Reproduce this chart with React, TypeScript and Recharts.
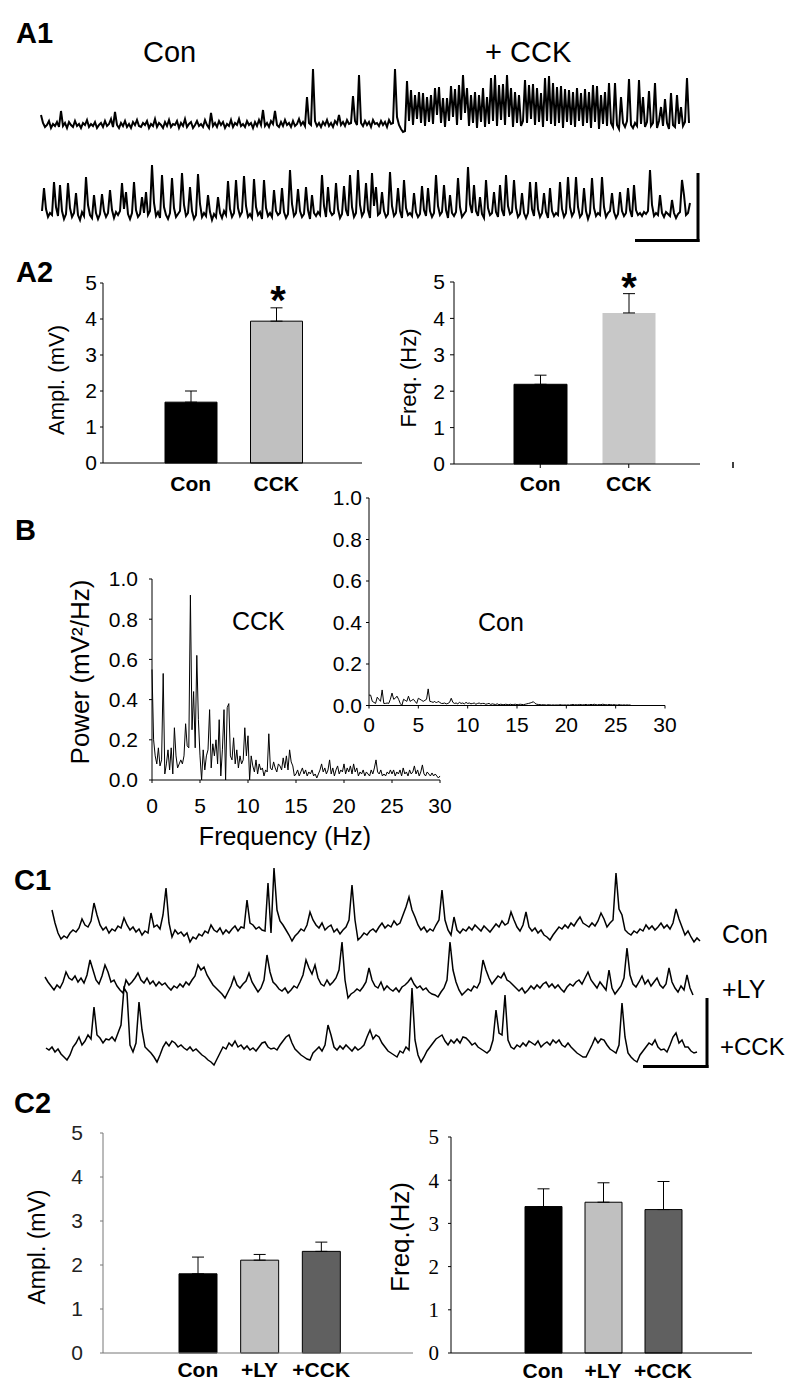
import React from "react";
import { LineChart, Line, BarChart, Bar, Cell, ErrorBar, XAxis, YAxis } from "recharts";

const SANS = "'Liberation Sans', Arial, Helvetica, sans-serif";
const SERIF = "'Liberation Serif', 'Times New Roman', serif";

// A1 traces: height in px above the trace floor, one sample every 2 px
const a1Top: number[] = [
  20, 12, 8, 10, 14, 7, 11, 9, 13, 8, 24, 9, 12, 7, 13, 10, 8, 14, 9, 11,
  7, 12, 10, 15, 8, 11, 9, 13, 7, 10, 12, 8, 14, 9, 11, 16, 8, 23, 10, 7,
  12, 9, 14, 8, 11, 7, 13, 10, 15, 9, 8, 12, 10, 14, 7, 11, 9, 16, 8, 12,
  10, 7, 13, 9, 15, 8, 11, 10, 14, 7, 12, 9, 16, 8, 11, 13, 7, 10, 14, 9,
  11, 8, 15, 10, 7, 22, 9, 12, 8, 14, 10, 13, 7, 11, 9, 15, 8, 12, 10, 16,
  9, 11, 8, 14, 10, 12, 7, 13, 9, 15, 10, 25, 9, 12, 8, 14, 11, 24, 10, 8,
  13, 9, 15, 10, 12, 8, 14, 9, 11, 16, 10, 13, 9, 38, 12, 10, 66, 14, 9, 12,
  8, 13, 10, 15, 9, 12, 8, 14, 11, 20, 10, 13, 9, 15, 11, 12, 39, 14, 10, 60,
  12, 9, 14, 10, 13, 8, 15, 11, 12, 9, 14, 10, 13, 8, 15, 11, 12, 66, 18, 10,
  6, 3,
  4, 54, 14, 45, 10, 40, 16, 43, 12, 42, 9, 38, 13, 40, 11, 47, 20, 48, 12, 37,
  8, 37, 14, 49, 18, 46, 10, 50, 15, 60, 22, 47, 9, 40, 12, 43, 7, 40, 13, 47,
  8, 38, 11, 57, 14, 60, 9, 50, 15, 51, 10, 60, 18, 47, 8, 43, 12, 40, 9, 14,
  55, 12, 50, 16, 51, 10, 47, 13, 42, 8, 57, 14, 59, 11, 52, 9, 48, 12, 49, 7,
  46, 13, 45, 10, 43, 8, 47, 14, 42, 9, 46, 12, 43, 7, 50, 13, 49, 6, 40, 11,
  43, 9, 52, 12, 8, 52, 10, 6, 38, 12, 8, 14, 56, 10, 7, 12, 9, 55, 11, 38,
  8, 13, 44, 9, 12, 52, 7, 14, 28, 9, 36, 12, 6, 42, 10, 8, 40, 11, 28, 9,
  13, 57, 12,
];

const a1Bottom: number[] = [
  14, 37, 16, 8, 12, 10, 43, 18, 9, 40, 14, 6, 11, 42, 17, 8, 12, 32, 10, 5,
  13, 9, 48, 20, 10, 7, 30, 12, 6, 11, 31, 14, 8, 12, 35, 15, 7, 13, 10, 14,
  42, 16, 33, 11, 6, 12, 43, 15, 8, 11, 28, 12, 33, 10, 14, 60, 22, 9, 13, 7,
  50, 18, 10, 6, 12, 47, 17, 8, 11, 14, 52, 20, 9, 12, 38, 14, 6, 10, 51, 21,
  8, 12, 9, 30, 13, 5, 11, 8, 28, 12, 7, 14, 10, 44, 16, 8, 12, 45, 17, 9,
  13, 49, 19, 8, 11, 7, 46, 18, 10, 13, 6, 45, 17, 9, 12, 8, 35, 14, 10, 12,
  37, 13, 7, 11, 55, 21, 9, 12, 36, 14, 8, 11, 38, 15, 6, 30, 12, 9, 13, 10,
  50, 19, 8, 38, 14, 10, 12, 42, 16, 7, 11, 39, 15, 9, 50, 18, 8, 12, 55, 20,
  9, 13, 42, 15, 7, 52, 19, 38, 10, 12, 33, 14, 8, 11, 53, 19, 9, 12, 37, 14,
  7, 45, 17, 10, 12, 9, 32, 13, 8, 11, 39, 15, 9, 37, 14, 8, 12, 50, 19, 10,
  13, 40, 15, 7, 30, 12, 9, 13, 47, 18, 8, 11, 14, 58, 21, 12, 40, 14, 9, 28,
  11, 7, 45, 17, 10, 12, 33, 13, 8, 40, 15, 9, 50, 19, 11, 13, 45, 17, 8, 11,
  32, 12, 7, 12, 43, 16, 9, 43, 16, 8, 12, 32, 13, 7, 37, 14, 9, 12, 10, 43,
  16, 8, 12, 48, 18, 9, 13, 48, 18, 8, 11, 37, 14, 6, 12, 47, 17, 9, 12, 10,
  48, 18, 8, 12, 14, 32, 13, 7, 11, 33, 14, 9, 12, 37, 15, 8, 40, 15, 10, 12,
  9, 13, 11, 14, 55, 20, 9, 12, 10, 30, 12, 8, 13, 11, 9, 25, 12, 7, 11, 13,
  45, 30, 10, 12, 22,
];

// C1 traces: one sample every 3 px
const c1Con: number[] = [
  35, 22, 12, 6, 9, 7, 12, 15, 13, 17, 26, 20, 18, 24, 42, 30, 20, 15, 18, 12,
  16, 14, 19, 17, 27, 20, 15, 18, 13, 16, 10, 14, 12, 32, 18, 20, 16, 30, 57, 22,
  8, 15, 11, 13, 9, 12, 3, 8, 6, 11, 9, 14, 12, 20, 15, 13, 17, 11, 15, 12,
  16, 19, 14, 18, 17, 45, 22, 20, 16, 18, 15, 14, 62, 12, 77, 35, 24, 20, 15, 10,
  4, 9, 12, 16, 14, 20, 33, 25, 20, 17, 22, 15, 18, 20, 13, 16, 11, 15, 18, 25,
  60, 25, 5, 8, 12, 10, 14, 16, 13, 18, 22, 17, 20, 18, 24, 20, 22, 30, 38, 48,
  35, 28, 20, 15, 18, 13, 16, 14, 20, 25, 55, 25, 15, 10, 28, 15, 12, 16, 14, 18,
  15, 20, 17, 14, 19, 16, 13, 17, 21, 18, 24, 20, 22, 33, 25, 18, 14, 20, 33, 18,
  14, 17, 12, 15, 10, 8, 5, 10, 14, 18, 16, 20, 17, 22, 19, 24, 28, 22, 20, 18,
  22, 19, 24, 32, 26, 18, 22, 25, 72, 36, 30, 15, 12, 10, 14, 12, 16, 14, 20, 16,
  19, 15, 18, 22, 17, 20, 16, 22, 36, 26, 18, 10, 14, 8, 3, 7, 4,
];

const c1Ly: number[] = [
  23, 18, 14, 10, 15, 12, 18, 28, 22, 20, 24, 18, 22, 17, 25, 40, 30, 20, 16, 24,
  35, 28, 18, 20, 14, 10, 7, 20, 15, 18, 22, 27, 20, 17, 22, 16, 19, 14, 18, 15,
  17, 13, 10, 14, 12, 16, 13, 18, 15, 20, 24, 35, 30, 33, 25, 20, 15, 12, 9, 6,
  2, 8, 14, 23, 15, 12, 16, 19, 27, 18, 13, 8, 12, 20, 45, 28, 18, 15, 11, 9,
  12, 7, 10, 14, 12, 18, 25, 40, 32, 26, 35, 22, 16, 14, 20, 15, 18, 22, 30, 58,
  20, 2, 6, 8, 11, 9, 13, 18, 32, 20, 14, 12, 18, 10, 14, 11, 9, 12, 8, 13,
  15, 18, 22, 16, 12, 14, 10, 12, 8, 6, 5, 3, 8, 12, 20, 58, 30, 18, 10, 5,
  8, 11, 9, 14, 12, 18, 40, 30, 22, 16, 20, 24, 22, 27, 20, 18, 15, 12, 9, 12,
  7, 10, 14, 11, 15, 12, 16, 18, 13, 16, 12, 15, 11, 8, 13, 16, 14, 18, 20, 16,
  22, 28, 20, 16, 12, 18, 14, 10, 30, 12, 6, 10, 14, 22, 52, 25, 16, 13, 18, 24,
  16, 20, 14, 18, 22, 15, 12, 16, 32, 18, 12, 8, 14, 10, 25, 12, 5,
];

const c1Cck: number[] = [
  17, 15, 18, 13, 16, 11, 8, 5, 10, 18, 22, 28, 20, 24, 30, 26, 58, 30, 27, 22,
  26, 25, 28, 24, 32, 40, 77, 72, 20, 13, 22, 63, 35, 18, 15, 12, 8, 3, 10, 18,
  23, 19, 24, 22, 18, 20, 17, 15, 18, 14, 16, 13, 10, 8, 5, 3, 0, 6, 12, 18,
  16, 22, 19, 24, 18, 20, 16, 19, 15, 17, 14, 18, 22, 23, 18, 16, 17, 15, 20, 24,
  28, 30, 22, 16, 13, 10, 8, 6, 5, 12, 15, 18, 14, 20, 40, 30, 18, 15, 19, 16,
  20, 17, 14, 18, 15, 17, 20, 28, 35, 26, 30, 28, 22, 18, 14, 12, 10, 8, 14, 12,
  18, 15, 77, 25, 10, 3, 8, 14, 18, 22, 26, 28, 30, 24, 20, 25, 22, 26, 22, 28,
  27, 24, 20, 22, 18, 16, 14, 12, 15, 25, 55, 32, 30, 70, 25, 18, 16, 20, 18, 22,
  19, 24, 22, 20, 24, 18, 21, 23, 20, 25, 22, 25, 20, 18, 22, 18, 15, 12, 10, 8,
  8, 14, 20, 27, 22, 26, 25, 20, 16, 14, 12, 20, 62, 28, 12, 8, 5, 3, 10, 14,
  18, 22, 20, 25, 18, 15, 16, 13, 20, 28, 32, 22, 25, 18, 18, 14, 12, 13,
];

// B power spectra (mV^2/Hz), bins of 1/6 Hz from 0 Hz
const spectrumCck: number[] = [
  0.55, 0.2, 0.12, 0.08, 0.16, 0.07, 0.1, 0.53, 0.03, 0.08,
  0.15, 0.05, 0.16, 0.03, 0.26, 0.12, 0.06, 0.08, 0.1, 0.08,
  0.12, 0.28, 0.17, 0.16, 0.92, 0.25, 0.44, 0.16, 0.62, 0.3,
  0.12, 0.0, 0.15, 0.05, 0.12, 0.15, 0.35, 0.06, 0.18, 0.12,
  0.2, 0.08, 0.3, 0.02, 0.15, 0.35, 0.0, 0.36, 0.38, 0.12,
  0.1, 0.21, 0.08, 0.15, 0.06, 0.12, 0.08, 0.1, 0.26, 0.12,
  0.22, 0.0, 0.12, 0.07, 0.04, 0.1, 0.03, 0.08, 0.05, 0.06,
  0.02, 0.05, 0.04, 0.23, 0.06, 0.05, 0.09, 0.06, 0.04, 0.08,
  0.07, 0.05, 0.11, 0.06, 0.12, 0.05, 0.15, 0.09, 0.07, 0.02,
  0.03, 0.05, 0.02, 0.04, 0.06, 0.03, 0.05, 0.02, 0.04, 0.03,
  0.05, 0.02, 0.03, 0.01, 0.03, 0.05, 0.08, 0.04, 0.06, 0.03,
  0.05, 0.1, 0.03, 0.06, 0.02, 0.05, 0.07, 0.03, 0.05, 0.04,
  0.08, 0.03, 0.06, 0.04, 0.07, 0.03, 0.08, 0.04, 0.06, 0.02,
  0.04, 0.03, 0.05, 0.02, 0.04, 0.03, 0.02, 0.05, 0.03, 0.06,
  0.1, 0.04, 0.03, 0.05, 0.02, 0.03, 0.02, 0.04, 0.03, 0.05,
  0.03, 0.05, 0.02, 0.04, 0.03, 0.05, 0.02, 0.06, 0.03, 0.04,
  0.02, 0.05, 0.03, 0.04, 0.07, 0.03, 0.05, 0.02, 0.04, 0.075,
  0.03, 0.02, 0.04, 0.03, 0.02, 0.035, 0.02, 0.03, 0.02, 0.01,
  0.02,
];

const spectrumCon: number[] = [
  0.05, 0.05, 0.02, 0.015, 0.01, 0.04, 0.03, 0.02, 0.075, 0.01,
  0.01, 0.012, 0.01, 0.03, 0.06, 0.03, 0.035, 0.045, 0.03, 0.01,
  0.0, 0.03, 0.025, 0.02, 0.045, 0.02, 0.025, 0.03, 0.02, 0.01,
  0.035, 0.03, 0.025, 0.02, 0.025, 0.03, 0.08, 0.02, 0.018, 0.015,
  0.02, 0.012, 0.02, 0.015, 0.01, 0.01, 0.012, 0.008, 0.01, 0.015,
  0.035, 0.015, 0.01, 0.012, 0.008, 0.015, 0.01, 0.012, 0.008, 0.015,
  0.01, 0.012, 0.008, 0.01, 0.012, 0.006, 0.01, 0.012, 0.008, 0.01,
  0.01, 0.006, 0.008, 0.01, 0.005, 0.008, 0.006, 0.005, 0.008, 0.004,
  0.006, 0.005, 0.004, 0.006, 0.005, 0.004, 0.006, 0.004, 0.005, 0.006,
  0.004, 0.005, 0.006, 0.005, 0.004, 0.006, 0.008, 0.01, 0.012, 0.015,
  0.018, 0.01, 0.006, 0.005, 0.004, 0.003, 0.004, 0.003, 0.002, 0.004,
  0.003, 0.002, 0.003, 0.002, 0.003, 0.002, 0.004, 0.003, 0.002, 0.003,
  0.002, 0.003, 0.002, 0.004, 0.005, 0.003, 0.004, 0.003, 0.005, 0.004,
  0.003, 0.004, 0.005, 0.003, 0.004, 0.005, 0.004, 0.006, 0.004, 0.003,
  0.005, 0.004, 0.006, 0.005, 0.004, 0.003, 0.005, 0.004, 0.003, 0.004,
  0.003, 0.002, 0.004, 0.003, 0.002, 0.003, 0.002, 0.003, 0.002, 0.003,
];
const BINS_PER_HZ = 6;
const freqTicks = [0, 5, 10, 15, 20, 25, 30];
const powerTicks = [0, 0.2, 0.4, 0.6, 0.8, 1.0];

// A2 / C2 bar data (mean and upward SEM)
const a2Cats = ["Con", "CCK"];
const a2Ampl = [1.69, 3.94];
const a2AmplErr = [0.31, 0.37];
const a2Freq = [2.19, 4.15];
const a2FreqErr = [0.25, 0.53];

const c2Cats = ["Con", "+LY", "+CCK"];
const c2Ampl = [1.8, 2.11, 2.31];
const c2AmplErr = [0.38, 0.13, 0.21];
const c2Freq = [3.39, 3.49, 3.32];
const c2FreqErr = [0.41, 0.45, 0.65];
const barTicks = [0, 1, 2, 3, 4, 5];

type TraceProps = {
  values: number[];
  x: number;
  floor: number;
  step: number;
  range: number;
  width?: number;
};

// raw voltage trace, no axes
const Trace = ({ values, x, floor, step, range, width = 1.4 }: TraceProps) => {
  const data = values.map((v, i) => ({ i, v }));
  const pad = 3;
  const w = (values.length - 1) * step;
  return (
    <div style={{ position: "absolute", left: x - pad, top: floor - range - pad }}>
      <LineChart
        width={w + pad * 2}
        height={range + pad * 2}
        data={data}
        margin={{ top: pad, right: pad, bottom: pad, left: pad }}
      >
        <XAxis dataKey="i" type="number" domain={[0, values.length - 1]} hide />
        <YAxis domain={[0, range]} hide />
        <Line
          dataKey="v"
          type="linear"
          stroke="#000"
          strokeWidth={width}
          strokeLinejoin="miter"
          dot={false}
          isAnimationActive={false}
        />
      </LineChart>
    </div>
  );
};

type BarPanelProps = {
  cats: string[];
  values: number[];
  errs: number[];
  fills: string[];
  strokes: string[];
  plotLeft: number;
  plotTop: number;
  plotW: number;
  plotH: number;
  padL: number;
  padR: number;
  barSize: number;
  axisColor: string;
  yTickFont: any;
  yTickSize: number;
  yTickMargin: number;
  xTickSize: number;
  xTickMargin: number;
  xFontSize: number;
};

const BarPanel = (p: BarPanelProps) => {
  const data = p.cats.map((name, i) => ({ name, value: p.values[i], err: [0, p.errs[i]] }));
  const yW = 50;
  const xH = 45;
  const mt = 20;
  return (
    <div style={{ position: "absolute", left: p.plotLeft - yW, top: p.plotTop - mt }}>
      <BarChart
        width={yW + p.plotW + 20}
        height={mt + p.plotH + xH}
        data={data}
        margin={{ top: mt, right: 20, bottom: 0, left: 0 }}
      >
        <XAxis
          dataKey="name"
          height={xH}
          padding={{ left: p.padL, right: p.padR }}
          axisLine={{ stroke: p.axisColor }}
          tickLine={p.xTickSize > 0 ? { stroke: "#000" } : false}
          tickSize={p.xTickSize}
          tickMargin={p.xTickMargin}
          interval={0}
          tick={{ fontSize: p.xFontSize, fontWeight: "bold", fill: "#000", fontFamily: SANS }}
        />
        <YAxis
          width={yW}
          domain={[0, 5]}
          ticks={barTicks}
          interval={0}
          axisLine={{ stroke: p.axisColor }}
          tickLine={{ stroke: p.axisColor }}
          tickSize={p.yTickSize}
          tickMargin={p.yTickMargin}
          tick={p.yTickFont}
        />
        <Bar dataKey="value" barSize={p.barSize} isAnimationActive={false}>
          {data.map((d, i) => (
            <Cell key={d.name} fill={p.fills[i]} stroke={p.strokes[i]} strokeWidth={1} />
          ))}
          <ErrorBar dataKey="err" width={6} stroke="#000" strokeWidth={1} direction="y" />
        </Bar>
      </BarChart>
    </div>
  );
};

type SpectrumProps = {
  values: number[];
  plotLeft: number;
  plotTop: number;
  plotW: number;
  plotH: number;
  fontSize: number;
  yTickMargin: number;
  xTickMargin: number;
};

const Spectrum = (p: SpectrumProps) => {
  const data = p.values.map((v, i) => ({ f: i / BINS_PER_HZ, p: v }));
  const yW = 50;
  const xH = 40;
  const mt = 20;
  return (
    <div style={{ position: "absolute", left: p.plotLeft - yW, top: p.plotTop - mt }}>
      <LineChart
        width={yW + p.plotW + 25}
        height={mt + p.plotH + xH}
        data={data}
        margin={{ top: mt, right: 25, bottom: 0, left: 0 }}
      >
        <XAxis
          dataKey="f"
          type="number"
          domain={[0, 30]}
          ticks={freqTicks}
          interval={0}
          height={xH}
          stroke="#000"
          tickSize={3}
          tickMargin={p.xTickMargin}
          tick={{ fontSize: p.fontSize, fill: "#000", fontFamily: SANS }}
        />
        <YAxis
          width={yW}
          domain={[0, 1]}
          ticks={powerTicks}
          interval={0}
          stroke="#000"
          tickSize={3}
          tickMargin={p.yTickMargin}
          tickFormatter={(v: number) => v.toFixed(1)}
          tick={{ fontSize: p.fontSize, fill: "#000", fontFamily: SANS }}
        />
        <Line
          dataKey="p"
          type="linear"
          stroke="#000"
          strokeWidth={1}
          dot={false}
          isAnimationActive={false}
        />
      </LineChart>
    </div>
  );
};

const sansTick = (size: number) => ({ fontSize: size, fill: "#000", fontFamily: SANS });

export default function App() {
  return (
    <div
      style={{
        position: "absolute",
        left: 0,
        top: 0,
        width: 800,
        height: 1391,
        background: "#fff",
        fontFamily: SANS,
        overflow: "hidden",
      }}
    >
      {/* A1 */}
      <Trace values={a1Top} x={41} floor={135} step={2} range={70} width={2} />
      <Trace values={a1Bottom} x={42} floor={225} step={2} range={70} width={2} />

      {/* A2 */}
      <BarPanel
        cats={a2Cats}
        values={a2Ampl}
        errs={a2AmplErr}
        fills={["#000", "#c0c0c0"]}
        strokes={["#000", "#000"]}
        plotLeft={103}
        plotTop={283}
        plotW={259}
        plotH={180}
        padL={45}
        padR={43}
        barSize={52}
        axisColor="#000"
        yTickFont={sansTick(21)}
        yTickSize={3}
        yTickMargin={3}
        xTickSize={0}
        xTickMargin={13}
        xFontSize={21}
      />
      <BarPanel
        cats={a2Cats}
        values={a2Freq}
        errs={a2FreqErr}
        fills={["#000", "#c8c8c8"]}
        strokes={["#000", "none"]}
        plotLeft={454}
        plotTop={282}
        plotW={246}
        plotH={182}
        padL={42}
        padR={27}
        barSize={53}
        axisColor="#000"
        yTickFont={sansTick(21)}
        yTickSize={4}
        yTickMargin={5}
        xTickSize={4}
        xTickMargin={8}
        xFontSize={21}
      />

      {/* B */}
      <Spectrum
        values={spectrumCck}
        plotLeft={152}
        plotTop={579}
        plotW={288}
        plotH={201}
        fontSize={21}
        yTickMargin={11}
        xTickMargin={15}
      />
      <Spectrum
        values={spectrumCon}
        plotLeft={369}
        plotTop={497.5}
        plotW={296}
        plotH={207.5}
        fontSize={21}
        yTickMargin={4}
        xTickMargin={9}
      />

      {/* C1 */}
      <Trace values={c1Con} x={52} floor={945} step={3} range={80} width={1.5} />
      <Trace values={c1Ly} x={45} floor={1000} step={3} range={60} width={1.5} />
      <Trace values={c1Cck} x={46} floor={1065} step={3} range={80} width={1.5} />

      {/* C2 */}
      <BarPanel
        cats={c2Cats}
        values={c2Ampl}
        errs={c2AmplErr}
        fills={["#000", "#c0c0c0", "#606060"]}
        strokes={["#000", "#000", "#000"]}
        plotLeft={103}
        plotTop={1133}
        plotW={310}
        plotH={220}
        padL={64}
        padR={61}
        barSize={38}
        axisColor="#777"
        yTickFont={{ fontSize: 21, fill: "#222", fontFamily: SANS }}
        yTickSize={3}
        yTickMargin={17}
        xTickSize={0}
        xTickMargin={9}
        xFontSize={21}
      />
      <BarPanel
        cats={c2Cats}
        values={c2Freq}
        errs={c2FreqErr}
        fills={["#000", "#c0c0c0", "#606060"]}
        strokes={["#000", "#000", "#000"]}
        plotLeft={451}
        plotTop={1137}
        plotW={301}
        plotH={216}
        padL={62}
        padR={59}
        barSize={37}
        axisColor="#000"
        yTickFont={{ fontSize: 21, fill: "#000", fontFamily: SERIF }}
        yTickSize={3}
        yTickMargin={9}
        xTickSize={0}
        xTickMargin={10}
        xFontSize={21}
      />

      {/* labels, scale bars */}
      <svg
        width={800}
        height={1391}
        style={{ position: "absolute", left: 0, top: 0, pointerEvents: "none" }}
        fontFamily={SANS}
      >
        <g fontWeight="bold" fontSize={29}>
          <text x={16} y={43}>A1</text>
          <text x={16} y={282}>A2</text>
          <text x={15} y={540}>B</text>
          <text x={14} y={890}>C1</text>
          <text x={14} y={1113}>C2</text>
        </g>
        <text x={143} y={62} fontSize={29}>Con</text>
        <text x={485} y={62} fontSize={29}>+ CCK</text>

        <line x1={698} y1={173} x2={698} y2={242} stroke="#000" strokeWidth={3} />
        <line x1={635} y1={240.5} x2={699.5} y2={240.5} stroke="#000" strokeWidth={3} />

        <text x={278} y={314} fontSize={40} fontWeight="bold" textAnchor="middle">*</text>
        <text x={629} y={301} fontSize={40} fontWeight="bold" textAnchor="middle">*</text>
        <line x1={733} y1={462} x2={733} y2={468} stroke="#000" strokeWidth={1.5} />

        <text x={64} y={380} fontSize={22} textAnchor="middle" transform="rotate(-90 64 380)">
          Ampl. (mV)
        </text>
        <text x={416} y={378} fontSize={22} textAnchor="middle" transform="rotate(-90 416 378)">
          Freq. (Hz)
        </text>

        <text x={232} y={630} fontSize={25}>CCK</text>
        <text x={478} y={631} fontSize={25}>Con</text>
        <text x={89} y={672} fontSize={26} textAnchor="middle" transform="rotate(-90 89 672)">
          Power (mV²/Hz)
        </text>
        <text x={285} y={845} fontSize={25} textAnchor="middle">Frequency (Hz)</text>

        <text x={722} y={943} fontSize={25}>Con</text>
        <text x={722} y={998} fontSize={25}>+LY</text>
        <text x={720} y={1055} fontSize={24}>+CCK</text>
        <line x1={707} y1={998} x2={707} y2={1068} stroke="#000" strokeWidth={3} />
        <line x1={643} y1={1066.5} x2={708.5} y2={1066.5} stroke="#000" strokeWidth={3} />

        <text x={45} y={1247} fontSize={23} textAnchor="middle" transform="rotate(-90 45 1247)">
          Ampl. (mV)
        </text>
        <text x={409} y={1237} fontSize={26} textAnchor="middle" transform="rotate(-90 409 1237)">
          Freq.(Hz)
        </text>
      </svg>
    </div>
  );
}
